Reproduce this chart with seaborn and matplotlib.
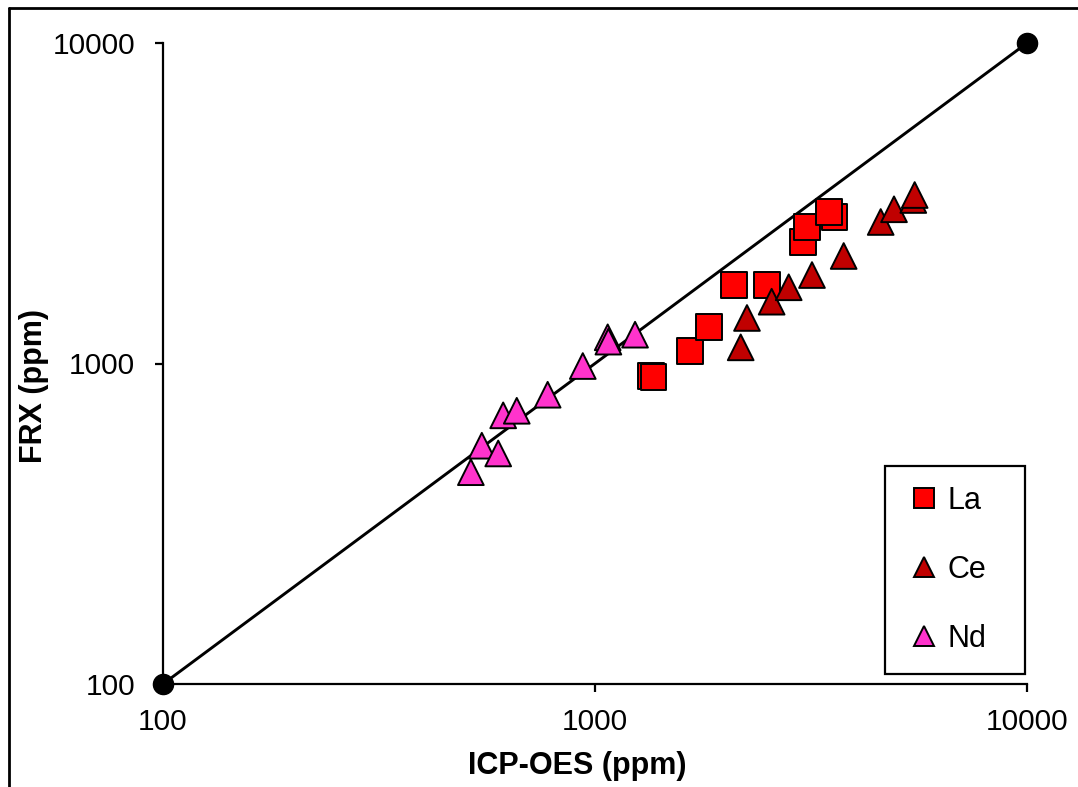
import matplotlib
matplotlib.use("Agg")
import matplotlib.pyplot as plt
import seaborn as sns
import pandas as pd
from matplotlib.lines import Line2D
from matplotlib.ticker import FixedLocator, FixedFormatter, NullLocator

# ---- data ----
la_icp = [1350, 1365, 1659, 1836, 2098, 2501, 3030, 3100, 3587, 3475]
la_frx = [915, 906, 1094, 1300, 1762, 1762, 2393, 2666, 2871, 2976]

ce_icp = [2174, 2248, 2564, 2808, 3179, 3764, 4585, 4922, 5455, 5495]
ce_frx = [1123, 1387, 1559, 1729, 1888, 2165, 2764, 3028, 3237, 3355]

nd_icp = [516, 547, 597, 613, 659, 777, 937, 1070, 1074, 1238]
nd_frx = [458, 554, 524, 689, 712, 799, 982, 1207, 1170, 1230]

line_x = [100, 10000]
line_y = [100, 10000]

series = ["La", "Ce", "Nd"]
colors = {"La": "#FF0000", "Ce": "#C00000", "Nd": "#FF33CC"}
markers = {"La": "s", "Ce": "^", "Nd": "^"}
ticks = [100, 1000, 10000]
tick_labels = ["100", "1000", "10000"]

df = pd.DataFrame({
    "icp": la_icp + ce_icp + nd_icp,
    "frx": la_frx + ce_frx + nd_frx,
    "el": ["La"] * len(la_icp) + ["Ce"] * len(ce_icp) + ["Nd"] * len(nd_icp),
})

sns.set_theme(style="white")
plt.rcParams["font.family"] = ["Liberation Sans", "DejaVu Sans"]
plt.rcParams["text.color"] = "black"

W, H = 1078, 787
fig = plt.figure(figsize=(W / 100, H / 100), dpi=100)
ax = fig.add_axes([163 / W, 1 - 684 / H, (1027 - 163) / W, (684 - 43) / H])

ax.plot(line_x, line_y, color="black", lw=2.1, marker="o", ms=14.5,
        clip_on=False, zorder=2)

sns.scatterplot(data=df, x="icp", y="frx", hue="el", style="el",
                hue_order=series, style_order=series, palette=colors,
                markers=markers, s=18.5 ** 2, edgecolor="black", linewidth=1.4,
                ax=ax, zorder=3, legend=False, clip_on=False)

ax.set_xscale("log")
ax.set_yscale("log")
ax.set_xlim(100, 10000)
ax.set_ylim(100, 10000)
for a in (ax.xaxis, ax.yaxis):
    a.set_major_locator(FixedLocator(ticks))
    a.set_major_formatter(FixedFormatter(tick_labels))
    a.set_minor_locator(NullLocator())

for s in ("top", "right"):
    ax.spines[s].set_visible(False)
for s in ("left", "bottom"):
    ax.spines[s].set_color("black")
    ax.spines[s].set_linewidth(1.6)

ax.tick_params(axis="both", which="major", direction="out", length=6,
               width=1.6, color="black", labelsize=21.5, labelcolor="black",
               bottom=True, left=True)
ax.tick_params(axis="x", pad=11)
ax.tick_params(axis="y", pad=14)

ax.set_xlabel("ICP-OES (ppm)", fontsize=22, fontweight="bold", color="black")
ax.set_ylabel("FRX (ppm)", fontsize=22, fontweight="bold", color="black")
ax.xaxis.set_label_coords((577 - 163) / 864, (684 - 751) / 641)
ax.yaxis.set_label_coords((49 - 163) / 864, (684 - 386) / 641)

handles = [Line2D([], [], ls="none", marker=markers[k], ms=14,
                  markerfacecolor=colors[k], markeredgecolor="black",
                  markeredgewidth=1.4) for k in series]
leg = ax.legend(handles, series, loc="upper left",
                bbox_to_anchor=(885 / W, 1 - 466 / H, 140 / W, 0),
                bbox_transform=fig.transFigure, mode="expand",
                fontsize=22, frameon=True, fancybox=False, framealpha=1,
                edgecolor="black", borderpad=0.65, labelspacing=1.28,
                handlelength=1.25, handletextpad=0.16, borderaxespad=0)
leg.get_frame().set_linewidth(1.6)
for t in leg.get_texts():
    t.set_color("black")

# outer frame of figure
fig.add_artist(Line2D([9 / W, 9 / W], [0, 1 - 8 / H], color="black", lw=2,
                      transform=fig.transFigure))
fig.add_artist(Line2D([9 / W, 1], [1 - 8 / H, 1 - 8 / H], color="black", lw=2,
                      transform=fig.transFigure))

fig.savefig("out.png", dpi=100, facecolor="white")
